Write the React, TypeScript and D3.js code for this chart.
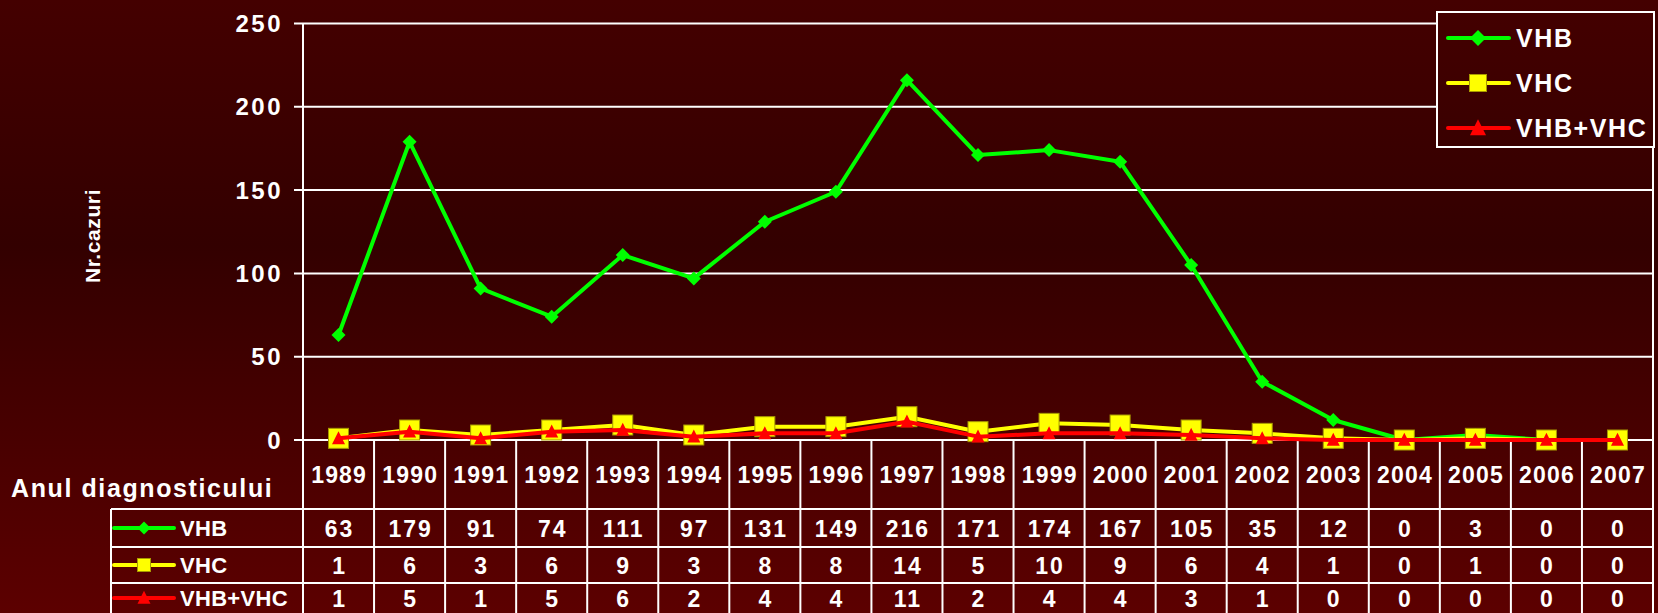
import React, { useEffect, useRef } from 'react';
import * as d3 from 'd3';

const years = ['1989', '1990', '1991', '1992', '1993', '1994', '1995', '1996', '1997', '1998',
  '1999', '2000', '2001', '2002', '2003', '2004', '2005', '2006', '2007'];
const vhb = [63, 179, 91, 74, 111, 97, 131, 149, 216, 171, 174, 167, 105, 35, 12, 0, 3, 0, 0];
const vhc = [1, 6, 3, 6, 9, 3, 8, 8, 14, 5, 10, 9, 6, 4, 1, 0, 1, 0, 0];
const vhbVhc = [1, 5, 1, 5, 6, 2, 4, 4, 11, 2, 4, 4, 3, 1, 0, 0, 0, 0, 0];
const yTicks = [0, 50, 100, 150, 200, 250];
const yTitle = 'Nr.cazuri';
const xTitle = 'Anul diagnosticului';

const W = 1658;
const H = 613;
const FONT = '"Liberation Sans", Arial, sans-serif';

type Marker = 'diamond' | 'square' | 'triangle';

const series: { name: string; values: number[]; color: string; marker: Marker }[] = [
  { name: 'VHB', values: vhb, color: '#00ff00', marker: 'diamond' },
  { name: 'VHC', values: vhc, color: '#ffff00', marker: 'square' },
  { name: 'VHB+VHC', values: vhbVhc, color: '#ff0000', marker: 'triangle' },
];

// draws one marker centred on 0,0 inside the given group
const drawMarker = (g: any, type: Marker, color: string, s: number) => {
  if (type === 'diamond') {
    g.append('path')
      .attr('d', `M0,${-s / 2}L${s / 2},0L0,${s / 2}L${-s / 2},0Z`)
      .attr('fill', color);
  } else if (type === 'square') {
    g.append('rect')
      .attr('x', -s / 2).attr('y', -s / 2)
      .attr('width', s).attr('height', s)
      .attr('fill', color)
      .attr('stroke', '#a89a00')
      .attr('stroke-width', 1);
  } else {
    g.append('path')
      .attr('d', `M0,${-s * 0.55}L${s / 2},${s * 0.45}L${-s / 2},${s * 0.45}Z`)
      .attr('fill', color);
  }
};

const App = () => {
  const svgRef = useRef<SVGSVGElement>(null);

  useEffect(() => {
    const svg = d3.select(svgRef.current);
    svg.selectAll('*').remove();

    const plot = { left: 303, right: 1653, top: 23.5, bottom: 440 };
    const rows = [440, 509, 547, 583, 621];
    const tableLeft = 111;

    // background gradient
    const defs = svg.append('defs');
    const bg = defs.append('linearGradient')
      .attr('id', 'bgGrad')
      .attr('gradientUnits', 'userSpaceOnUse')
      .attr('x1', 0).attr('y1', 0)
      .attr('x2', 0).attr('y2', H);
    bg.append('stop').attr('offset', '0%').attr('stop-color', '#440000');
    bg.append('stop').attr('offset', '40%').attr('stop-color', '#330000');
    bg.append('stop').attr('offset', '100%').attr('stop-color', '#5c0000');

    svg.append('rect').attr('width', W).attr('height', H).attr('fill', 'url(#bgGrad)');

    // Scales
    const x = d3.scaleBand<string>()
      .domain(years)
      .range([plot.left, plot.right])
      .paddingInner(0)
      .paddingOuter(0);
    const bw = x.bandwidth();
    const cx = (yr: string) => (x(yr) as number) + bw / 2;

    const y = d3.scaleLinear()
      .domain([0, 250])
      .range([plot.bottom, plot.top]);

    const white = '#ffffff';

    // gridlines + ticks
    svg.append('g')
      .selectAll('line')
      .data(yTicks)
      .enter()
      .append('line')
      .attr('x1', plot.left - 9)
      .attr('x2', plot.right)
      .attr('y1', d => y(d))
      .attr('y2', d => y(d))
      .attr('stroke', white)
      .attr('stroke-width', 2);

    svg.append('g')
      .selectAll('text')
      .data(yTicks)
      .enter()
      .append('text')
      .attr('x', 283)
      .attr('y', d => y(d) + 8.5)
      .attr('text-anchor', 'end')
      .attr('font-family', FONT)
      .attr('font-weight', 'bold')
      .attr('font-size', 24)
      .attr('letter-spacing', 2.5)
      .attr('fill', white)
      .text(d => d);

    // y axis and right border
    svg.append('line')
      .attr('x1', plot.left).attr('x2', plot.left)
      .attr('y1', plot.top).attr('y2', H)
      .attr('stroke', white).attr('stroke-width', 2);
    svg.append('line')
      .attr('x1', plot.right).attr('x2', plot.right)
      .attr('y1', plot.top).attr('y2', H)
      .attr('stroke', white).attr('stroke-width', 2);

    // table grid
    svg.append('g')
      .selectAll('line')
      .data(years.slice(1))
      .enter()
      .append('line')
      .attr('x1', d => x(d) as number)
      .attr('x2', d => x(d) as number)
      .attr('y1', plot.bottom)
      .attr('y2', H)
      .attr('stroke', white)
      .attr('stroke-width', 2);

    svg.append('g')
      .selectAll('line')
      .data(rows.slice(1, 4))
      .enter()
      .append('line')
      .attr('x1', tableLeft)
      .attr('x2', plot.right)
      .attr('y1', d => d)
      .attr('y2', d => d)
      .attr('stroke', white)
      .attr('stroke-width', 2);

    svg.append('line')
      .attr('x1', tableLeft).attr('x2', tableLeft)
      .attr('y1', rows[1]).attr('y2', H)
      .attr('stroke', white).attr('stroke-width', 2);

    // year header
    svg.append('g')
      .selectAll('text')
      .data(years)
      .enter()
      .append('text')
      .attr('x', d => cx(d) + 0.6)
      .attr('y', (rows[0] + rows[1]) / 2 + 8)
      .attr('text-anchor', 'middle')
      .attr('font-family', FONT)
      .attr('font-weight', 'bold')
      .attr('font-size', 23)
      .attr('letter-spacing', 1.2)
      .attr('fill', white)
      .text(d => d);

    svg.append('text')
      .attr('x', 11)
      .attr('y', 497)
      .attr('font-family', FONT)
      .attr('font-weight', 'bold')
      .attr('font-size', 25)
      .attr('letter-spacing', 1.6)
      .attr('fill', white)
      .text(xTitle);

    // y title
    svg.append('text')
      .attr('transform', 'translate(100, 236) rotate(-90)')
      .attr('text-anchor', 'middle')
      .attr('font-family', FONT)
      .attr('font-weight', 'bold')
      .attr('font-size', 21)
      .attr('letter-spacing', 0.6)
      .attr('fill', white)
      .text(yTitle);

    // table rows
    series.forEach((s, i) => {
      const top = rows[i + 1];
      const bottom = rows[i + 2];
      const mid = Math.min((top + bottom) / 2, 598);

      const key = svg.append('g');
      key.append('line')
        .attr('x1', 114).attr('x2', 174)
        .attr('y1', mid).attr('y2', mid)
        .attr('stroke', s.color)
        .attr('stroke-width', 4)
        .attr('stroke-linecap', 'round');
      drawMarker(key.append('g').attr('transform', `translate(144, ${mid})`), s.marker, s.color, 13);
      key.append('text')
        .attr('x', 180)
        .attr('y', mid + 8)
        .attr('font-family', FONT)
        .attr('font-weight', 'bold')
        .attr('font-size', 22)
        .attr('letter-spacing', 0.3)
        .attr('fill', white)
        .text(s.name);

      svg.append('g')
        .selectAll('text')
        .data(s.values)
        .enter()
        .append('text')
        .attr('x', (d, j) => cx(years[j]) + 1)
        .attr('y', mid + 8.5)
        .attr('text-anchor', 'middle')
        .attr('font-family', FONT)
        .attr('font-weight', 'bold')
        .attr('font-size', 23)
        .attr('letter-spacing', 2)
        .attr('fill', white)
        .text(d => d);
    });

    // lines and markers
    const line = d3.line<number>()
      .x((d, j) => cx(years[j]))
      .y(d => y(d));

    const sizes: Record<Marker, number> = { diamond: 14, square: 20, triangle: 13 };

    series.forEach(s => {
      const g = svg.append('g');
      g.append('path')
        .datum(s.values)
        .attr('d', line)
        .attr('fill', 'none')
        .attr('stroke', s.color)
        .attr('stroke-width', 4)
        .attr('stroke-linejoin', 'round');
      s.values.forEach((v, j) => {
        drawMarker(g.append('g').attr('transform', `translate(${cx(years[j])}, ${y(v)})`), s.marker, s.color, sizes[s.marker]);
      });
    });

    // legend
    const legend = svg.append('g');
    legend.append('rect')
      .attr('x', 1437).attr('y', 12)
      .attr('width', 217).attr('height', 135)
      .attr('fill', 'url(#bgGrad)')
      .attr('stroke', white)
      .attr('stroke-width', 2);

    const legendRows = [38, 83, 128];
    series.forEach((s, i) => {
      const ly = legendRows[i];
      legend.append('line')
        .attr('x1', 1448).attr('x2', 1509)
        .attr('y1', ly).attr('y2', ly)
        .attr('stroke', s.color)
        .attr('stroke-width', 4)
        .attr('stroke-linecap', 'round');
      drawMarker(legend.append('g').attr('transform', `translate(1478, ${ly})`), s.marker, s.color, s.marker === 'square' ? 17 : 16);
      legend.append('text')
        .attr('x', 1516)
        .attr('y', ly + 9)
        .attr('font-family', FONT)
        .attr('font-weight', 'bold')
        .attr('font-size', 25)
        .attr('letter-spacing', 1.6)
        .attr('fill', white)
        .text(s.name);
    });
  }, []);

  return (
    <svg
      ref={svgRef}
      width={W}
      height={H}
      style={{ position: 'fixed', left: 0, top: 0, display: 'block' }}
    />
  );
};

export default App;
